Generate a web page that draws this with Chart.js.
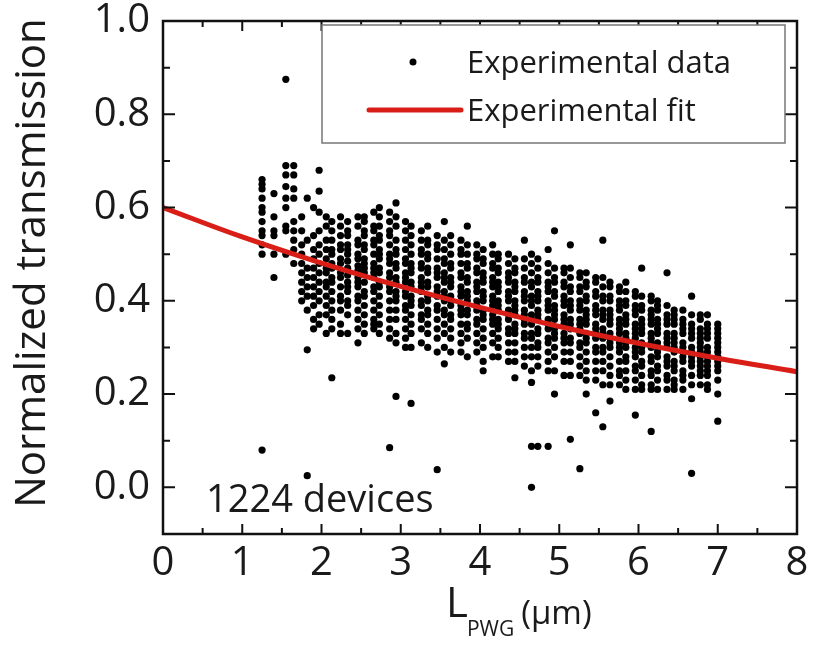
<!DOCTYPE html>
<html><head><meta charset="utf-8">
<script src="https://cdn.jsdelivr.net/npm/chart.js@4.4.0/dist/chart.umd.min.js"></script>
<style>html,body{margin:0;padding:0;background:#fff;}#wrap{width:813px;height:646px;position:relative;}</style>
</head><body><div id="wrap"><canvas id="c" width="813" height="646"></canvas></div>
<script>
const FONT = '"Open Sans", "Noto Sans", sans-serif';
const TXT = '#1a1a1a';

const xTicks = [0,1,2,3,4,5,6,7,8];
const yTicks = [0.0,0.2,0.4,0.6,0.8,1.0];

const legendLabels = ['Experimental data','Experimental fit'];
const noteText = '1224 devices';
const yTitle = 'Normalized transmission';

// Experimental fit curve (read at integer x)
const fitX = [0,1,2,3,4,5,6,7,8];
const fitY = [0.600,0.537,0.481,0.431,0.386,0.345,0.309,0.277,0.248];

// Experimental data, grouped in columns of device length
const columnX = [1.25,1.40,1.55,1.65,1.75,1.82,1.90,1.97,2.06,2.13,2.24,
 2.33,2.46,2.54,2.66,2.73,2.86,2.94,3.06,3.13,3.26,3.34,3.46,3.55,3.63,3.76,3.84,3.96,
 4.04,4.16,4.23,4.36,4.44,4.56,4.65,4.73,4.86,4.94,5.06,5.14,5.26,5.34,5.46,5.55,5.64,
 5.76,5.84,5.96,6.04,6.16,6.24,6.36,6.45,6.56,6.67,6.78,6.87,7.00];
const columnY = [
 [0.66,0.65,0.64,0.62,0.60,0.59,0.57,0.55,0.54,0.52,0.50,0.08],
 [0.63,0.58,0.55,0.54,0.50,0.45],
 [0.875,0.69,0.67,0.645,0.62,0.60,0.56,0.55,0.50],
 [0.69,0.67,0.64,0.62,0.57,0.55,0.53,0.51,0.48],
 [0.58,0.55,0.52,0.50,0.48,0.46,0.44,0.42,0.40],
 [0.62,0.53,0.47,0.45,0.43,0.41,0.38,0.295,0.025],
 [0.60,0.54,0.51,0.49,0.47,0.45,0.43,0.41,0.39,0.36,0.34],
 [0.68,0.635,0.59,0.55,0.52,0.50,0.48,0.46,0.44,0.42,0.40,0.37,0.35],
 [0.58,0.56,0.53,0.51,0.49,0.47,0.46,0.44,0.43,0.41,0.39,0.37,0.33],
 [0.57,0.55,0.53,0.51,0.50,0.48,0.47,0.45,0.44,0.42,0.40,0.38,0.36,0.34,0.235],
 [0.58,0.56,0.54,0.52,0.51,0.49,0.48,0.46,0.45,0.43,0.41,0.40,0.38,0.35,0.33],
 [0.57,0.55,0.54,0.52,0.51,0.50,0.485,0.47,0.455,0.44,0.43,0.42,0.40,0.39,0.37,0.33],
 [0.58,0.56,0.53,0.52,0.50,0.49,0.475,0.465,0.45,0.44,0.43,0.41,0.40,0.38,0.36,0.34,0.31],
 [0.58,0.57,0.55,0.54,0.52,0.51,0.49,0.48,0.47,0.46,0.44,0.42,0.41,0.39,0.37,0.35,0.33],
 [0.59,0.56,0.55,0.53,0.52,0.50,0.48,0.47,0.46,0.45,0.43,0.42,0.40,0.38,0.36,0.35,0.34],
 [0.60,0.58,0.56,0.54,0.53,0.51,0.50,0.49,0.47,0.46,0.44,0.43,0.41,0.39,0.37,0.35,0.33],
 [0.59,0.57,0.55,0.54,0.52,0.50,0.49,0.48,0.46,0.45,0.43,0.42,0.40,0.38,0.36,0.34,0.32,0.085],
 [0.61,0.58,0.56,0.53,0.51,0.50,0.48,0.47,0.45,0.44,0.42,0.41,0.40,0.38,0.36,0.33,0.31,0.195],
 [0.57,0.55,0.53,0.51,0.49,0.48,0.46,0.45,0.44,0.42,0.41,0.39,0.38,0.36,0.34,0.32,0.30],
 [0.56,0.54,0.52,0.50,0.48,0.47,0.46,0.44,0.43,0.41,0.40,0.39,0.37,0.35,0.33,0.30,0.18],
 [0.55,0.53,0.51,0.50,0.48,0.47,0.45,0.44,0.43,0.42,0.40,0.39,0.37,0.36,0.34,0.31],
 [0.56,0.53,0.52,0.50,0.49,0.47,0.46,0.44,0.43,0.41,0.40,0.38,0.37,0.35,0.33,0.30],
 [0.54,0.52,0.51,0.49,0.47,0.46,0.45,0.43,0.42,0.41,0.39,0.38,0.36,0.34,0.32,0.29,0.038],
 [0.57,0.53,0.51,0.49,0.48,0.46,0.45,0.44,0.42,0.41,0.40,0.38,0.37,0.35,0.33,0.30,0.265],
 [0.54,0.52,0.50,0.48,0.47,0.45,0.44,0.43,0.41,0.40,0.39,0.37,0.36,0.34,0.32,0.29],
 [0.53,0.51,0.50,0.48,0.46,0.45,0.43,0.42,0.41,0.39,0.38,0.37,0.35,0.33,0.31,0.29],
 [0.56,0.52,0.50,0.48,0.47,0.45,0.44,0.42,0.41,0.40,0.38,0.37,0.35,0.34,0.32,0.28],
 [0.52,0.50,0.49,0.47,0.46,0.44,0.43,0.42,0.40,0.39,0.38,0.36,0.35,0.33,0.31,0.29],
 [0.51,0.49,0.48,0.46,0.45,0.44,0.42,0.41,0.40,0.38,0.37,0.36,0.34,0.32,0.30,0.27,0.25],
 [0.52,0.50,0.48,0.47,0.45,0.44,0.43,0.41,0.40,0.39,0.37,0.36,0.35,0.33,0.31,0.28],
 [0.50,0.49,0.47,0.46,0.44,0.43,0.42,0.40,0.39,0.38,0.36,0.35,0.34,0.32,0.30,0.28],
 [0.50,0.48,0.46,0.45,0.44,0.42,0.41,0.40,0.38,0.37,0.36,0.34,0.33,0.31,0.29,0.27],
 [0.49,0.47,0.46,0.44,0.43,0.42,0.40,0.39,0.38,0.37,0.35,0.34,0.33,0.31,0.29,0.27,0.235],
 [0.53,0.49,0.47,0.45,0.44,0.42,0.41,0.40,0.38,0.37,0.36,0.35,0.33,0.32,0.30,0.28,0.26],
 [0.50,0.48,0.46,0.44,0.43,0.41,0.40,0.39,0.37,0.36,0.35,0.33,0.32,0.30,0.28,0.25,0.225,0.088,0.0],
 [0.49,0.47,0.45,0.44,0.42,0.41,0.40,0.38,0.37,0.36,0.34,0.33,0.31,0.30,0.28,0.26,0.088],
 [0.51,0.48,0.46,0.44,0.43,0.42,0.40,0.39,0.38,0.36,0.35,0.34,0.32,0.31,0.29,0.27,0.25,0.088],
 [0.55,0.47,0.45,0.44,0.42,0.41,0.39,0.38,0.37,0.36,0.34,0.33,0.32,0.30,0.28,0.25,0.20],
 [0.47,0.46,0.44,0.43,0.41,0.40,0.39,0.37,0.36,0.35,0.33,0.32,0.31,0.29,0.27,0.24],
 [0.52,0.47,0.45,0.43,0.42,0.40,0.39,0.38,0.36,0.35,0.34,0.32,0.31,0.29,0.27,0.24,0.103],
 [0.46,0.45,0.43,0.42,0.40,0.39,0.38,0.36,0.35,0.34,0.33,0.31,0.30,0.28,0.26,0.24,0.04],
 [0.46,0.44,0.43,0.41,0.40,0.38,0.37,0.36,0.35,0.33,0.32,0.31,0.29,0.27,0.25,0.23,0.20],
 [0.45,0.44,0.42,0.41,0.39,0.38,0.37,0.35,0.34,0.33,0.32,0.30,0.29,0.27,0.25,0.23,0.16],
 [0.53,0.45,0.43,0.41,0.40,0.38,0.37,0.36,0.34,0.33,0.32,0.30,0.29,0.27,0.25,0.22,0.13],
 [0.44,0.43,0.41,0.40,0.38,0.37,0.36,0.35,0.33,0.32,0.31,0.30,0.28,0.26,0.24,0.22,0.185],
 [0.43,0.42,0.40,0.39,0.38,0.36,0.35,0.34,0.33,0.31,0.30,0.29,0.27,0.25,0.24,0.22],
 [0.44,0.42,0.40,0.39,0.37,0.36,0.35,0.33,0.32,0.31,0.30,0.28,0.27,0.25,0.23,0.21],
 [0.42,0.41,0.39,0.38,0.37,0.35,0.34,0.33,0.32,0.30,0.29,0.28,0.26,0.25,0.23,0.21,0.155],
 [0.47,0.41,0.39,0.38,0.36,0.35,0.34,0.33,0.31,0.30,0.29,0.27,0.26,0.24,0.22,0.21],
 [0.41,0.40,0.38,0.37,0.36,0.35,0.33,0.32,0.31,0.30,0.28,0.27,0.25,0.24,0.22,0.21,0.12],
 [0.40,0.39,0.38,0.36,0.35,0.34,0.33,0.31,0.30,0.29,0.28,0.26,0.25,0.23,0.21],
 [0.46,0.39,0.37,0.36,0.35,0.33,0.32,0.31,0.30,0.28,0.27,0.26,0.24,0.23,0.21],
 [0.38,0.37,0.36,0.35,0.33,0.32,0.31,0.30,0.29,0.27,0.26,0.25,0.23,0.22,0.21],
 [0.38,0.36,0.35,0.34,0.33,0.31,0.30,0.29,0.28,0.27,0.25,0.24,0.23,0.21],
 [0.41,0.37,0.35,0.34,0.33,0.32,0.30,0.29,0.28,0.27,0.26,0.24,0.22,0.19,0.03],
 [0.37,0.36,0.34,0.33,0.32,0.31,0.30,0.29,0.28,0.27,0.26,0.25,0.24,0.22],
 [0.37,0.35,0.34,0.33,0.32,0.30,0.29,0.28,0.27,0.26,0.25,0.24,0.22,0.21],
 [0.35,0.34,0.33,0.32,0.31,0.30,0.29,0.28,0.27,0.26,0.25,0.23,0.20,0.142]
];

const scatterData = [];
columnX.forEach((x, i) => columnY[i].forEach(y => scatterData.push({x: x, y: y})));
const fitData = fitX.map((x, i) => ({x: x, y: fitY[i]}));

const framePlugin = {
  id: 'frame',
  afterDraw(chart) {
    const ctx = chart.ctx, a = chart.chartArea;
    const xs = chart.scales.x, ys = chart.scales.y;
    ctx.save();
    ctx.strokeStyle = '#111'; ctx.lineWidth = 2;
    for (let k = 0; k <= 16; k++) {
      const v = k * 0.5, px = xs.getPixelForValue(v);
      const L = (k % 2 === 0) ? 10 : 6;
      ctx.beginPath();
      ctx.moveTo(px, a.bottom); ctx.lineTo(px, a.bottom - L);
      ctx.moveTo(px, a.top); ctx.lineTo(px, a.top + L);
      ctx.stroke();
    }
    for (let k = -1; k <= 10; k++) {
      const v = k * 0.1, py = ys.getPixelForValue(v);
      const L = (k % 2 === 0) ? 12 : 7;
      ctx.beginPath();
      ctx.moveTo(a.left, py); ctx.lineTo(a.left + L, py);
      ctx.moveTo(a.right, py); ctx.lineTo(a.right - L, py);
      ctx.stroke();
    }
    ctx.lineWidth = 2.5;
    ctx.strokeRect(a.left, a.top, a.right - a.left, a.bottom - a.top);

    // legend
    const lx = 322, ly = 25, lw = 463, lh = 118;
    ctx.fillStyle = '#fff';
    ctx.fillRect(lx, ly, lw, lh);
    ctx.strokeStyle = '#777'; ctx.lineWidth = 1.5;
    ctx.strokeRect(lx, ly, lw, lh);
    ctx.fillStyle = '#000';
    ctx.beginPath(); ctx.arc(413, 62, 3.5, 0, Math.PI * 2); ctx.fill();
    ctx.strokeStyle = '#d91e18'; ctx.lineWidth = 5; ctx.lineCap = 'round';
    ctx.beginPath(); ctx.moveTo(369, 110); ctx.lineTo(461, 110); ctx.stroke();
    ctx.fillStyle = TXT;
    ctx.font = '31px ' + FONT;
    ctx.textBaseline = 'alphabetic'; ctx.textAlign = 'left';
    ctx.fillText(legendLabels[0], 467, 73);
    ctx.fillText(legendLabels[1], 467, 121);

    ctx.font = '38px ' + FONT;
    ctx.fillText(noteText, 206, 512);

    ctx.save();
    ctx.translate(45, 263);
    ctx.rotate(-Math.PI / 2);
    ctx.textAlign = 'center';
    ctx.font = '42px ' + FONT;
    ctx.fillText(yTitle, 0, 0);
    ctx.restore();

    ctx.textAlign = 'left';
    let x0 = 446;
    ctx.font = '42px ' + FONT;
    ctx.fillText('L', x0, 617);
    x0 += ctx.measureText('L').width;
    ctx.font = '21px ' + FONT;
    ctx.fillText('PWG', x0 - 1, 636);
    x0 += ctx.measureText('PWG').width + 6;
    ctx.font = '33px ' + FONT;
    ctx.fillText('(\u03bcm)', x0, 624);
    ctx.restore();
  }
};

new Chart(document.getElementById('c'), {
  data: {
    datasets: [
      { type: 'scatter', label: legendLabels[0], data: scatterData, order: 2,
        pointRadius: 3.6, pointHoverRadius: 3.6, backgroundColor: '#000', borderWidth: 0 },
      { type: 'line', label: legendLabels[1], data: fitData, order: 1,
        borderColor: '#d91e18', borderWidth: 5, pointRadius: 0, tension: 0.4, fill: false }
    ]
  },
  options: {
    responsive: false, animation: false, events: [],
    layout: { padding: { left: 0, right: 16, top: 21, bottom: 0 } },
    plugins: { legend: { display: false }, tooltip: { enabled: false } },
    scales: {
      x: { type: 'linear', min: 0, max: 8,
        afterBuildTicks: s => { s.ticks = xTicks.map(v => ({ value: v })); },
        afterFit: s => { s.height = 112; s.paddingLeft = 0; s.paddingRight = 0; },
        grid: { display: false, drawTicks: false }, border: { display: false },
        ticks: { padding: 10, color: TXT, maxRotation: 0, autoSkip: false,
          font: { family: FONT, size: 40, lineHeight: 1 }, callback: v => String(v) } },
      y: { type: 'linear', min: -0.1, max: 1.0,
        afterBuildTicks: s => { s.ticks = yTicks.map(v => ({ value: v })); },
        afterFit: s => { s.width = 163; s.paddingTop = 0; s.paddingBottom = 0; },
        grid: { display: false, drawTicks: false }, border: { display: false },
        ticks: { padding: 13, color: TXT, autoSkip: false,
          font: { family: FONT, size: 40, lineHeight: 1 }, callback: v => Number(v).toFixed(1) } }
    }
  },
  plugins: [framePlugin]
});
</script></body></html>
